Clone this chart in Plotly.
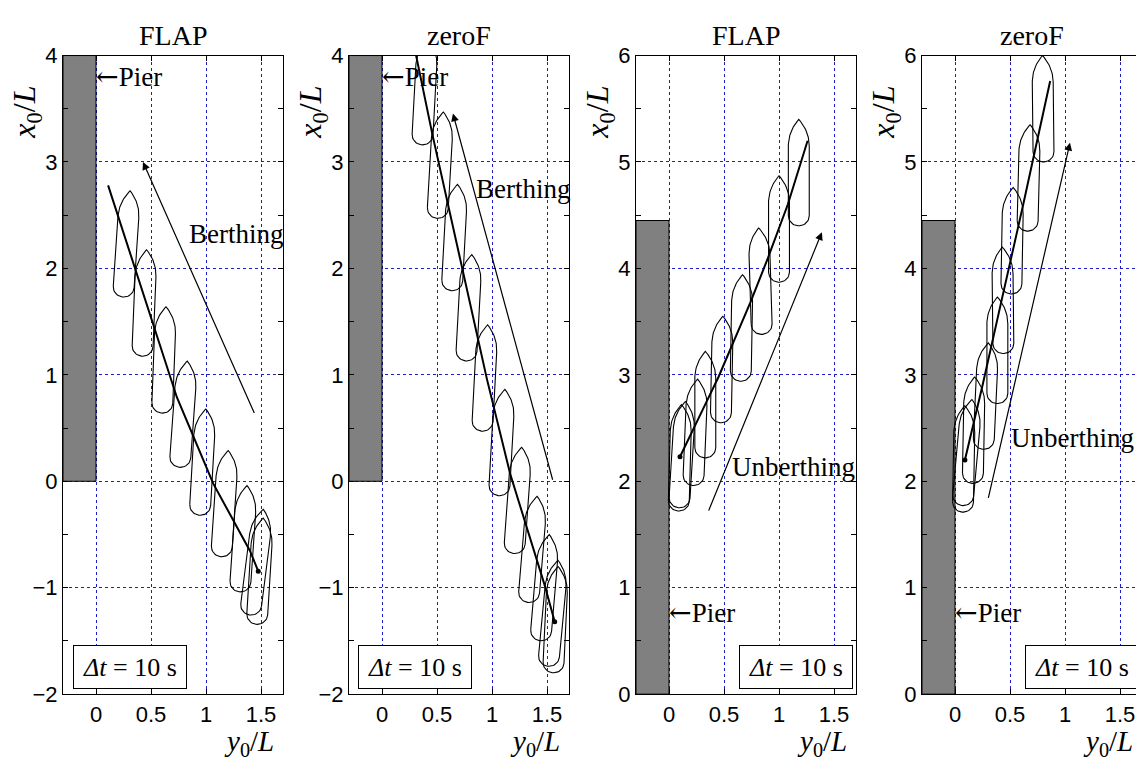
import numpy as np
import plotly.graph_objects as go

# ---------------- data ----------------
panel_titles = ["FLAP", "zeroF", "FLAP", "zeroF"]
motion_labels = ["Berthing", "Berthing", "Unberthing", "Unberthing"]
dt_text = "<i>Δt</i> = 10 s"
pier_text = "<span style=\"font-family:'DejaVu Serif'\">←</span>Pier"

x_ranges = [[-0.3, 1.7], [-0.3, 1.7], [-0.3, 1.7], [-0.3, 1.645]]
y_ranges = [[-2, 4], [-2, 4], [0, 6], [0, 6]]
x_ticks = [0, 0.5, 1, 1.5]
x_ticktext = ["0", "0.5", "1", "1.5"]

pier_left = [-0.3, -0.3, -0.3, -0.3]
pier_right = [0.0, 0.0, 0.0, 0.0]
pier_bottom = [0.0, 0.0, 0.0, 0.0]
pier_top = [4.0, 4.0, 4.45, 4.45]

# ship centres (y0/L horizontal, x0/L vertical) and heading (deg)
boats_y0 = [
    [0.278, 0.44, 0.618, 0.795, 0.97, 1.17, 1.34, 1.46, 1.49],
    [0.39, 0.53, 0.66, 0.79, 0.935, 1.09, 1.235, 1.37, 1.48, 1.555, 1.578],
    [0.10, 0.12, 0.24, 0.33, 0.48, 0.66, 0.83, 1.00, 1.18],
    [0.08, 0.11, 0.17, 0.28, 0.385, 0.435, 0.52, 0.67, 0.80],
]
boats_x0 = [
    [2.23, 1.675, 1.14, 0.63, 0.18, -0.21, -0.54, -0.76, -0.845],
    [3.66, 2.97, 2.29, 1.63, 0.97, 0.364, -0.18, -0.64, -1.0, -1.24, -1.30],
    [2.22, 2.25, 2.46, 2.72, 3.05, 3.44, 3.88, 4.37, 4.90],
    [2.21, 2.27, 2.48, 2.80, 3.23, 3.70, 4.26, 4.85, 5.50],
]
boats_psi = [
    [3.7, 2.3, 2.1, 4.0, 3.2, 3.7, 3.8, 7.0, 3.4],
    [3.0, 3.2, 3.0, 3.0, 2.9, 3.1, 4.0, 4.6, 4.7, 5.2, 2.6],
    [1.5, 3.4, 2.3, 0.0, 1.1, 1.0, -1.7, 0.0, 0.0],
    [1.0, 5.0, 1.0, 2.6, 0.0, -0.6, 1.0, 1.4, -0.6],
]

# trajectories
traj_y0 = [
    [0.11, 0.355, 0.735, 1.065, 1.40, 1.475],
    [0.29, 0.46, 0.955, 1.165, 1.48, 1.57],
    [0.10, 0.20, 0.31, 0.45, 0.57, 0.74, 0.90, 1.08, 1.26],
    [0.09, 0.25, 0.43, 0.62, 0.865],
]
traj_x0 = [
    [2.78, 2.0, 0.79, -0.02, -0.655, -0.845],
    [4.10, 3.25, 0.955, 0.07, -0.98, -1.32],
    [2.23, 2.45, 2.68, 2.98, 3.27, 3.68, 4.10, 4.60, 5.20],
    [2.20, 2.90, 3.73, 4.60, 5.76],
]
# index of the marked point on each trajectory
traj_mark = [-1, -1, 0, 0]

# direction arrows: tail -> head
arrow_tail_y0 = [1.445, 1.555, 0.355, 0.30]
arrow_tail_x0 = [0.627, 0.0, 1.71, 1.83]
arrow_head_y0 = [0.427, 0.645, 1.39, 1.045]
arrow_head_x0 = [3.0, 3.455, 4.34, 5.18]

# label positions (data units)
label_y0 = [1.28, 1.29, 1.136, 1.07]
label_x0 = [2.32, 2.75, 2.136, 2.41]
pier_label_x0 = [3.8, 3.8, 0.77, 0.77]
dt_box_y0 = [0.305, 0.30, 1.155, 1.15]
dt_box_x0 = [-1.745, -1.745, 0.255, 0.255]

SHIP_LENGTH = 1.0

# ---------------- layout geometry (pixels) ----------------
W, H = 1136, 771
left_px = [63, 349, 636, 922]
right_px = [283, 569, 856, 1136]
top_px, bot_px = 45, 705

SERIF = "Liberation Serif, Times New Roman, serif"
SANS = "Liberation Sans, Arial, sans-serif"
GRID = "#1c1cc8"


def boat_outline(cy, cx, psi_deg, length=1.0, half_w=0.095, bow_len=0.25):
    b = half_w
    th = np.linspace(0, np.pi, 24)
    u_st = -length / 2 + b - b * np.sin(th)
    v_st = -b * np.cos(th)
    R = (b ** 2 + bow_len ** 2) / (2 * b)
    s = np.linspace(0, bow_len, 24)
    v_og = np.sqrt(R ** 2 - s ** 2) - (R - b)
    u_og = length / 2 - bow_len + s
    u = np.concatenate([u_st, u_og, u_og[::-1], [u_st[0]]])
    v = np.concatenate([v_st, v_og, -v_og[::-1], [v_st[0]]])
    p = np.deg2rad(psi_deg)
    hx = cy + u * np.sin(p) + v * np.cos(p)
    vx = cx + u * np.cos(p) - v * np.sin(p)
    return hx, vx


fig = go.Figure()
annotations = []

for i in range(4):
    n = "" if i == 0 else str(i + 1)
    xa, ya = "x" + n, "y" + n

    # pier
    fig.add_trace(go.Scatter(
        x=[pier_left[i], pier_right[i], pier_right[i], pier_left[i], pier_left[i]],
        y=[pier_bottom[i], pier_bottom[i], pier_top[i], pier_top[i], pier_bottom[i]],
        fill="toself", fillcolor="#808080", mode="lines",
        line=dict(color="black", width=1), xaxis=xa, yaxis=ya,
        showlegend=False, hoverinfo="skip"))

    # ships
    bx, by = [], []
    for cy, cx, ps in zip(boats_y0[i], boats_x0[i], boats_psi[i]):
        hx, vx = boat_outline(cy, cx, ps, length=SHIP_LENGTH)
        bx += list(hx) + [None]
        by += list(vx) + [None]
    fig.add_trace(go.Scatter(x=bx, y=by, mode="lines",
                             line=dict(color="black", width=1.1),
                             xaxis=xa, yaxis=ya, showlegend=False, hoverinfo="skip"))

    # trajectory
    fig.add_trace(go.Scatter(x=traj_y0[i], y=traj_x0[i], mode="lines",
                             line=dict(color="black", width=2),
                             xaxis=xa, yaxis=ya, showlegend=False, hoverinfo="skip"))
    k = traj_mark[i]
    fig.add_trace(go.Scatter(x=[traj_y0[i][k]], y=[traj_x0[i][k]], mode="markers",
                             marker=dict(color="black", size=5),
                             xaxis=xa, yaxis=ya, showlegend=False, hoverinfo="skip"))

    # direction arrow
    annotations.append(dict(
        x=arrow_head_y0[i], y=arrow_head_x0[i], xref=xa, yref=ya,
        ax=arrow_tail_y0[i], ay=arrow_tail_x0[i], axref=xa, ayref=ya,
        text="", showarrow=True, arrowhead=2, arrowsize=1.3, arrowwidth=1.2,
        arrowcolor="black", standoff=0, startstandoff=0))

    # motion label
    annotations.append(dict(
        x=label_y0[i], y=label_x0[i], xref=xa, yref=ya, text=motion_labels[i],
        showarrow=False, font=dict(family=SERIF, size=27, color="black"),
        xanchor="center", yanchor="middle"))

    # pier label
    annotations.append(dict(
        x=0.0, y=pier_label_x0[i], xref=xa, yref=ya, text=pier_text,
        showarrow=False, font=dict(family=SERIF, size=27, color="black"),
        xanchor="left", yanchor="middle", xshift=-2))

    # dt box
    annotations.append(dict(
        x=dt_box_y0[i], y=dt_box_x0[i], xref=xa, yref=ya, text=dt_text,
        showarrow=False, font=dict(family=SERIF, size=26, color="black"),
        xanchor="center", yanchor="middle", width=108, height=38,
        bordercolor="black", borderwidth=1, borderpad=2, bgcolor="white"))

    # titles
    cx_px = (left_px[i] + right_px[i]) / 2 if i < 3 else left_px[i] + 110
    annotations.append(dict(
        x=cx_px / W, y=1 - 24 / H, xref="paper", yref="paper", text=panel_titles[i],
        showarrow=False, font=dict(family=SERIF, size=28, color="black"),
        xanchor="center", yanchor="middle"))

    # y-axis title (x0/L)
    annotations.append(dict(
        x=(left_px[i] - 36) / W, y=1 - 104 / H, xref="paper", yref="paper",
        text="<i>x</i><sub>0</sub>/<i>L</i>", textangle=-90,
        showarrow=False, font=dict(family=SERIF, size=32, color="black"),
        xanchor="center", yanchor="middle"))

    # x-axis title (y0/L)
    rp = right_px[i] if i < 3 else left_px[i] + 220
    annotations.append(dict(
        x=(rp - 34) / W, y=0, xref="paper", yref="paper",
        text="<i>y</i><sub>0</sub>/<i>L</i>",
        showarrow=False, font=dict(family=SERIF, size=29, color="black"),
        xanchor="center", yanchor="bottom", yshift=-4, borderpad=0))

    xaxis = dict(
        domain=[left_px[i] / W, right_px[i] / W], anchor=ya,
        range=x_ranges[i], tickmode="array", tickvals=x_ticks, ticktext=x_ticktext,
        ticks="inside", ticklen=5, tickcolor="black", ticklabelstandoff=0,
        showgrid=True, gridcolor=GRID, griddash="3px,3px", gridwidth=1,
        zeroline=False, showline=True, linecolor="black", linewidth=1,
        mirror="ticks", tickfont=dict(family=SANS, size=22, color="black"),
        fixedrange=True)
    yaxis = dict(
        domain=[1 - bot_px / H, 1 - top_px / H], anchor=xa,
        range=y_ranges[i], tickmode="linear", tick0=0, dtick=1,
        ticks="inside", ticklen=5, tickcolor="black",
        minor=dict(dtick=0.5, tick0=0, ticks="inside", ticklen=5, tickcolor="black", showgrid=False),
        showgrid=True, gridcolor=GRID, griddash="3px,3px", gridwidth=1,
        zeroline=False, showline=True, linecolor="black", linewidth=1,
        mirror=("ticks" if i < 3 else False),
        tickfont=dict(family=SANS, size=22, color="black"),
        fixedrange=True)
    fig.layout["xaxis" + n] = xaxis
    fig.layout["yaxis" + n] = yaxis

fig.update_layout(
    width=W, height=H, autosize=False,
    margin=dict(l=0, r=0, t=0, b=0),
    paper_bgcolor="white", plot_bgcolor="white",
    annotations=annotations, showlegend=False)

fig.write_html("out.html")
